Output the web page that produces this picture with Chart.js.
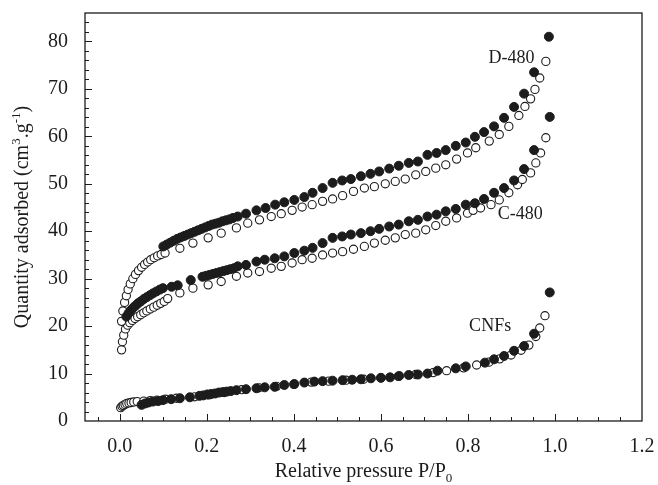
<!DOCTYPE html>
<html>
<head>
<meta charset="utf-8">
<title>N2 isotherms</title>
<script src="https://cdn.jsdelivr.net/npm/chart.js@4.4.1/dist/chart.umd.min.js"></script>
<style>
  html, body { margin: 0; padding: 0; background: #fff; }
  canvas { display: block; }
</style>
</head>
<body>
<canvas id="isoChart" width="658" height="485"></canvas>
<script>
// ==================== DATA ====================
// [P/P0, quantity adsorbed]
// filled = desorption, open = adsorption
const d480Des = [[0.100,36.8],[0.108,37.2],[0.116,37.6],[0.124,38.0],[0.132,38.4],[0.140,38.7],[0.148,39.0],[0.156,39.3],[0.164,39.6],[0.172,39.9],[0.180,40.2],[0.188,40.5],[0.196,40.8],[0.204,41.1],[0.212,41.4],[0.220,41.6],[0.228,41.8],[0.236,42.1],[0.244,42.3],[0.252,42.5],[0.260,42.8],[0.271,43.1],[0.290,43.7],[0.314,44.4],[0.335,44.9],[0.357,45.6],[0.378,46.1],[0.401,46.6],[0.424,47.2],[0.443,48.1],[0.466,49.1],[0.489,50.2],[0.511,50.7],[0.531,51.0],[0.554,51.6],[0.576,52.1],[0.596,52.6],[0.619,53.2],[0.641,53.8],[0.664,54.4],[0.685,54.7],[0.707,56.1],[0.728,56.5],[0.749,57.1],[0.772,58.0],[0.795,58.7],[0.816,59.9],[0.837,60.9],[0.860,62.1],[0.883,63.9],[0.906,66.2],[0.929,69.0],[0.952,73.5],[0.986,81.0]];

const d480Ads = [[0.004,21.0],[0.007,23.2],[0.011,25.0],[0.015,26.4],[0.019,27.7],[0.024,28.9],[0.030,30.0],[0.036,30.9],[0.043,31.7],[0.050,32.4],[0.057,33.0],[0.064,33.5],[0.071,34.0],[0.079,34.4],[0.087,34.8],[0.095,35.1],[0.104,35.4],[0.138,36.4],[0.168,37.5],[0.203,38.6],[0.233,39.6],[0.268,40.7],[0.294,41.7],[0.321,42.4],[0.348,43.1],[0.371,43.7],[0.396,44.4],[0.419,45.1],[0.442,45.6],[0.466,46.3],[0.489,46.8],[0.512,47.5],[0.537,48.4],[0.562,49.1],[0.585,49.4],[0.610,50.0],[0.633,50.5],[0.656,51.0],[0.680,51.9],[0.703,52.6],[0.726,53.3],[0.749,54.0],[0.774,55.2],[0.799,56.5],[0.818,57.6],[0.849,59.0],[0.872,60.4],[0.894,62.1],[0.917,64.4],[0.931,66.3],[0.944,67.9],[0.954,69.9],[0.965,72.3],[0.979,75.8]];

const c480Des = [[0.015,22.0],[0.020,22.7],[0.025,23.3],[0.030,23.8],[0.036,24.3],[0.042,24.8],[0.048,25.2],[0.055,25.7],[0.062,26.1],[0.069,26.5],[0.076,26.9],[0.084,27.3],[0.092,27.7],[0.099,28.0],[0.119,28.3],[0.133,28.6],[0.163,29.7],[0.190,30.4],[0.198,30.6],[0.206,30.8],[0.214,31.0],[0.222,31.2],[0.230,31.4],[0.238,31.6],[0.246,31.8],[0.254,32.0],[0.262,32.2],[0.271,32.6],[0.290,32.9],[0.314,33.6],[0.333,34.0],[0.356,34.3],[0.378,34.7],[0.401,35.4],[0.424,35.9],[0.443,36.5],[0.466,37.5],[0.489,38.6],[0.511,38.9],[0.531,39.3],[0.554,39.6],[0.576,40.0],[0.596,40.5],[0.619,41.0],[0.641,41.4],[0.664,42.1],[0.685,42.4],[0.707,43.1],[0.728,43.5],[0.749,44.2],[0.772,44.7],[0.795,45.6],[0.816,45.9],[0.837,46.8],[0.860,48.1],[0.883,49.1],[0.906,50.7],[0.929,53.1],[0.952,57.1],[0.988,64.1]];

const c480Ads = [[0.004,15.0],[0.006,16.7],[0.009,18.1],[0.013,19.4],[0.018,20.2],[0.023,20.7],[0.029,21.2],[0.035,21.6],[0.041,22.0],[0.048,22.4],[0.055,22.8],[0.062,23.2],[0.070,23.6],[0.078,24.0],[0.086,24.4],[0.094,24.8],[0.102,25.2],[0.110,25.8],[0.138,27.0],[0.168,28.0],[0.203,28.7],[0.233,29.4],[0.268,30.5],[0.294,31.2],[0.321,31.5],[0.348,32.2],[0.371,32.6],[0.396,33.3],[0.419,34.0],[0.442,34.3],[0.466,35.0],[0.489,35.4],[0.512,35.7],[0.537,36.2],[0.562,36.8],[0.585,37.5],[0.610,38.1],[0.633,38.6],[0.656,39.3],[0.680,39.6],[0.703,40.3],[0.726,41.2],[0.749,42.1],[0.774,42.8],[0.799,43.8],[0.812,44.4],[0.829,44.9],[0.853,45.6],[0.872,46.6],[0.894,48.1],[0.914,49.8],[0.925,50.9],[0.944,52.3],[0.956,54.4],[0.967,56.5],[0.979,59.7]];

const cnfDes = [[0.050,3.4],[0.058,3.7],[0.066,3.9],[0.076,4.1],[0.088,4.2],[0.099,4.4],[0.118,4.6],[0.138,4.8],[0.161,5.0],[0.183,5.3],[0.192,5.4],[0.201,5.6],[0.210,5.7],[0.219,5.8],[0.228,6.0],[0.237,6.1],[0.246,6.2],[0.255,6.3],[0.268,6.5],[0.290,6.7],[0.314,6.9],[0.333,7.1],[0.356,7.2],[0.378,7.6],[0.401,7.8],[0.424,8.1],[0.447,8.3],[0.466,8.4],[0.489,8.5],[0.512,8.6],[0.534,8.7],[0.554,8.8],[0.577,9.0],[0.600,9.1],[0.621,9.2],[0.642,9.5],[0.664,9.7],[0.685,9.8],[0.707,10.0],[0.730,10.6],[0.772,11.1],[0.795,11.5],[0.839,12.3],[0.860,13.0],[0.883,13.7],[0.906,14.8],[0.929,15.8],[0.952,18.4],[0.988,27.1]];

const cnfAds = [[0.002,2.8],[0.005,3.1],[0.008,3.3],[0.012,3.5],[0.016,3.7],[0.021,3.8],[0.026,3.9],[0.032,4.0],[0.040,4.1],[0.055,4.2],[0.070,4.3],[0.085,4.4],[0.105,4.6],[0.130,4.8],[0.172,5.1],[0.205,5.5],[0.240,6.0],[0.280,6.6],[0.320,7.0],[0.360,7.3],[0.400,7.7],[0.440,8.2],[0.480,8.4],[0.520,8.6],[0.560,8.8],[0.600,9.1],[0.640,9.4],[0.680,9.8],[0.720,10.2],[0.751,10.6],[0.790,11.2],[0.820,11.8],[0.848,12.4],[0.873,13.1],[0.899,13.9],[0.922,14.9],[0.940,16.0],[0.956,17.8],[0.965,19.6],[0.977,22.2]];

const xTickValues = [0.0, 0.2, 0.4, 0.6, 0.8, 1.0, 1.2];
const yTickValues = [0, 10, 20, 30, 40, 50, 60, 70, 80];

// ==================== STYLE ====================
const FONT = '"Liberation Serif", "Times New Roman", serif';
const INK = '#1c1c1c';

const toPoints = (rows) => rows.map(([p, q]) => ({ x: p, y: q }));

const filledStyle = {
    showLine: false,
    pointRadius: 4.5,
    pointBorderWidth: 1,
    pointBackgroundColor: INK,
    pointBorderColor: INK
};
const openStyle = {
    showLine: false,
    pointRadius: 4.1,
    pointBorderWidth: 1.1,
    pointBackgroundColor: '#ffffff',
    pointBorderColor: INK
};

// ==================== FRAME / TEXT PLUGIN ====================
function drawRich(ctx, parts, size) {
    // parts: [text, kind] with kind '' | 'sup' | 'sub'
    const small = Math.round(size * 0.65);
    let total = 0;
    parts.forEach(([t, k]) => {
        ctx.font = `${k ? small : size}px ${FONT}`;
        total += ctx.measureText(t).width;
    });
    let cx = -total / 2;
    parts.forEach(([t, k]) => {
        ctx.font = `${k ? small : size}px ${FONT}`;
        const dy = k === 'sup' ? -size * 0.38 : (k === 'sub' ? size * 0.25 : 0);
        ctx.fillText(t, cx, dy);
        cx += ctx.measureText(t).width;
    });
}

const framePlugin = {
    id: 'frame',
    beforeDatasetsDraw(chart) {
        const { ctx, scales: { x, y } } = chart;
        // box follows the scale extents
        const left = x.getPixelForValue(x.min), right = x.getPixelForValue(x.max);
        const top = y.getPixelForValue(y.max), bottom = y.getPixelForValue(y.min);
        ctx.save();
        ctx.strokeStyle = INK;
        ctx.lineWidth = 1.3;
        ctx.strokeRect(left, top, right - left, bottom - top);

        ctx.lineWidth = 1;
        ctx.beginPath();
        // x ticks every 0.05, major every 0.2, pointing inward
        for (let i = -1; i < 24; i++) {
            const px = Math.round(x.getPixelForValue(i * 0.05)) + 0.5;
            const len = i % 4 === 0 ? 7 : 4;
            ctx.moveTo(px, bottom);
            ctx.lineTo(px, bottom - len);
        }
        // y ticks every 2, major every 10
        for (let v = 2; v < 86; v += 2) {
            const py = Math.round(y.getPixelForValue(v)) + 0.5;
            const len = v % 10 === 0 ? 7 : 4;
            ctx.moveTo(left, py);
            ctx.lineTo(left + len, py);
        }
        ctx.stroke();
        ctx.restore();
    },
    afterDraw(chart) {
        const { ctx, scales: { x, y } } = chart;
        const midX = (x.getPixelForValue(x.min) + x.getPixelForValue(x.max)) / 2;
        const midY = (y.getPixelForValue(y.min) + y.getPixelForValue(y.max)) / 2;
        ctx.save();
        ctx.fillStyle = INK;
        ctx.textBaseline = 'alphabetic';
        ctx.textAlign = 'left';

        // series labels, anchored in data space
        const notes = chart.options.plugins.frame.notes;
        ctx.font = `18px ${FONT}`;
        notes.forEach(n => {
            const w = ctx.measureText(n.text).width;
            ctx.fillText(n.text, x.getPixelForValue(n.p) - w / 2, y.getPixelForValue(n.q) + 6);
        });

        // x axis title
        ctx.save();
        ctx.translate(midX, 477);
        drawRich(ctx, [['Relative pressure P/P', ''], ['0', 'sub']], 20);
        ctx.restore();

        // y axis title
        ctx.save();
        ctx.translate(28, midY);
        ctx.rotate(-Math.PI / 2);
        drawRich(ctx, [['Quantity adsorbed (cm', ''], ['3', 'sup'], ['.g', ''], ['-1', 'sup'], [')', '']], 20);
        ctx.restore();

        ctx.restore();
    }
};

// ==================== CHART ====================
const ctx = document.getElementById('isoChart').getContext('2d');

const isoChart = new Chart(ctx, {
    type: 'scatter',
    data: {
        datasets: [
            { label: 'D-480 des', data: toPoints(d480Des), ...filledStyle },
            { label: 'C-480 des', data: toPoints(c480Des), ...filledStyle },
            { label: 'CNFs des', data: toPoints(cnfDes), ...filledStyle },
            { label: 'D-480 ads', data: toPoints(d480Ads), ...openStyle },
            { label: 'C-480 ads', data: toPoints(c480Ads), ...openStyle },
            { label: 'CNFs ads', data: toPoints(cnfAds), ...openStyle }
        ]
    },
    options: {
        responsive: false,
        animation: false,
        layout: { padding: { top: 13, right: 16, left: 0, bottom: 0 } },
        plugins: {
            legend: { display: false },
            tooltip: { enabled: false },
            frame: {
                notes: [
                    { text: 'D-480', p: 0.90, q: 76.8 },
                    { text: 'C-480', p: 0.92, q: 43.9 },
                    { text: 'CNFs', p: 0.851, q: 20.3 }
                ]
            }
        },
        scales: {
            x: {
                type: 'linear',
                min: -0.08,
                max: 1.2,
                afterFit: (s) => {
                    s.height = 64;
                    s.paddingLeft = 0; s.paddingRight = 0;
                },
                afterBuildTicks: (s) => { s.ticks = xTickValues.map(v => ({ value: v })); },
                ticks: {
                    padding: 14,
                    color: INK,
                    font: { family: FONT, size: 20 },
                    callback: (v) => Number(v).toFixed(1)
                },
                grid: { display: false, drawTicks: false },
                border: { display: false }
            },
            y: {
                type: 'linear',
                min: 0,
                max: 86,
                afterFit: (s) => {
                    s.width = 85;
                    s.paddingTop = 0; s.paddingBottom = 0;
                },
                afterBuildTicks: (s) => { s.ticks = yTickValues.map(v => ({ value: v })); },
                ticks: {
                    padding: 17,
                    color: INK,
                    font: { family: FONT, size: 20 }
                },
                grid: { display: false, drawTicks: false },
                border: { display: false }
            }
        }
    },
    plugins: [framePlugin]
});
</script>
</body>
</html>
